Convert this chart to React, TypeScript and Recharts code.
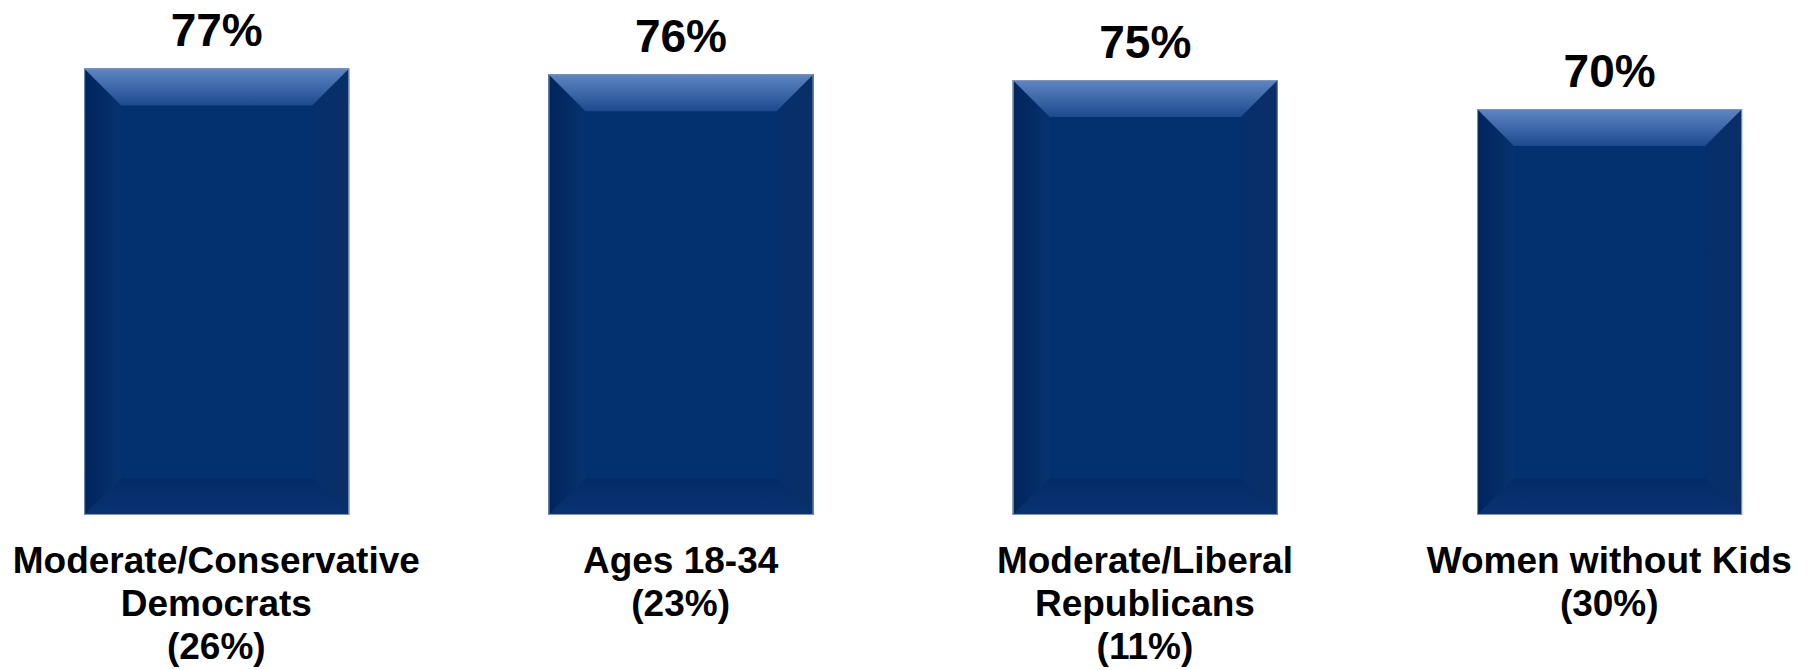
import React from 'react';
import { BarChart, Bar, XAxis, YAxis, LabelList } from 'recharts';

const categoryLines = [
  ['Moderate/Conservative', 'Democrats'],
  ['Ages 18-34'],
  ['Moderate/Liberal', 'Republicans'],
  ['Women without Kids'],
];
const shares = ['(26%)', '(23%)', '(11%)', '(30%)'];
const values = [77, 76, 75, 70];

const data = values.map((v, i) => ({ idx: i, value: v }));

const FONT = '"Liberation Sans", Arial, sans-serif';

// bar drawn with a bevelled edge, like the office-style chart
const BevelBar = (props: any) => {
  const { x, y, width: w, height: h, index } = props;
  const b = 37;
  const id = `bv${index}`;
  return (
    <g>
      <defs>
        <linearGradient id={`${id}t`} x1="0" y1="0" x2="0" y2="1">
          <stop offset="0%" stopColor="#5E86C3" />
          <stop offset="100%" stopColor="#1D4A8E" />
        </linearGradient>
        <linearGradient id={`${id}l`} x1="0" y1="0" x2="1" y2="0">
          <stop offset="0%" stopColor="#00245A" />
          <stop offset="100%" stopColor="#06336F" />
        </linearGradient>
        <linearGradient id={`${id}r`} x1="0" y1="0" x2="1" y2="0">
          <stop offset="0%" stopColor="#052F6C" />
          <stop offset="100%" stopColor="#0A2F66" />
        </linearGradient>
        <linearGradient id={`${id}b`} x1="0" y1="0" x2="0" y2="1">
          <stop offset="0%" stopColor="#032C66" />
          <stop offset="100%" stopColor="#0A3272" />
        </linearGradient>
      </defs>
      <rect x={x} y={y} width={w} height={h} fill="#03306E" />
      <polygon points={`${x},${y} ${x + b},${y + b} ${x + b},${y + h - b} ${x},${y + h}`} fill={`url(#${id}l)`} />
      <polygon points={`${x + w},${y} ${x + w - b},${y + b} ${x + w - b},${y + h - b} ${x + w},${y + h}`} fill={`url(#${id}r)`} />
      <polygon points={`${x},${y + h} ${x + b},${y + h - b} ${x + w - b},${y + h - b} ${x + w},${y + h}`} fill={`url(#${id}b)`} />
      <polygon points={`${x},${y} ${x + w},${y} ${x + w - b},${y + b} ${x + b},${y + b}`} fill={`url(#${id}t)`} />
      <rect x={x + 0.5} y={y + 0.5} width={w - 1} height={h - 1} fill="none" stroke="#7F95BC" strokeWidth={1} />
    </g>
  );
};

const CategoryTick = (props: any) => {
  const { x, y, payload } = props;
  const i = payload.value as number;
  const lines = [...(categoryLines[i] || []), shares[i]];
  return (
    <text x={x} y={y} textAnchor="middle" fontFamily={FONT} fontWeight="bold" fontSize={37} fill="#000">
      {lines.map((t, k) => (
        <tspan key={k} x={x} dy={k === 0 ? 58 : 43}>
          {t}
        </tspan>
      ))}
    </text>
  );
};

export default function App() {
  return (
    <div style={{ position: 'absolute', left: 0, top: 0, width: 1814, height: 670, background: '#fff' }}>
      <BarChart width={1814} height={670} data={data} margin={{ top: 51, right: 0, left: 0, bottom: 0 }}>
        <XAxis
          type="number"
          dataKey="idx"
          domain={[-0.4659, 3.441]}
          ticks={[0, 1, 2, 3]}
          allowDataOverflow
          axisLine={false}
          tickLine={false}
          tickSize={0}
          tickMargin={0}
          height={155}
          tick={<CategoryTick />}
          interval={0}
        />
        <YAxis hide domain={[0, 80]} />
        <Bar dataKey="value" barSize={265} shape={<BevelBar />} isAnimationActive={false}>
          <LabelList
            dataKey="value"
            position="top"
            offset={22}
            formatter={(v: any) => `${v}%`}
            style={{ fontFamily: FONT, fontWeight: 'bold', fontSize: 46, fill: '#000' }}
          />
        </Bar>
      </BarChart>
    </div>
  );
}
